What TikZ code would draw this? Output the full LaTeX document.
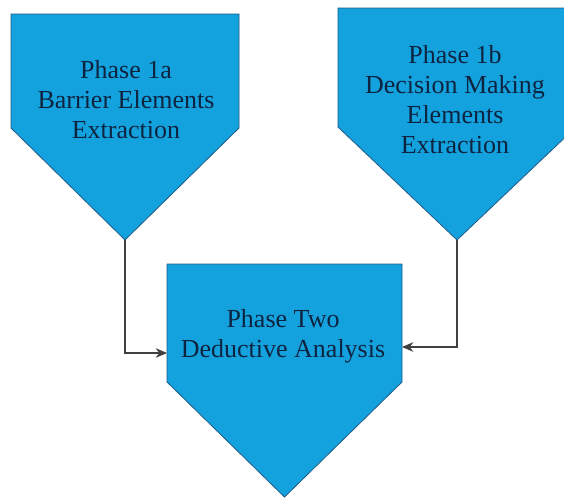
\documentclass[tikz,border=0pt]{standalone}
\usepackage{fontspec}
\setmainfont{Liberation Serif}
\newfontfamily\phasefont{Liberation Serif}
\usepackage{xcolor}
\usepackage{tikz}
\usetikzlibrary{arrows.meta, positioning, calc}
\definecolor{phaseblue}{HTML}{14A2DE}
\definecolor{phaseedge}{HTML}{1F5A85}
\definecolor{phasetext}{HTML}{0D2440}
\definecolor{linkgray}{HTML}{404040}

\begin{document}
\begin{tikzpicture}[
    x=1pt, y=-1pt,
    shaft/.style={
        rectangle,
        inner sep=0pt,
        outer sep=0pt
    },
    phase/.style={
        fill=phaseblue,
        draw=phaseedge,
        line width=0.8pt,
        line join=miter
    },
    caption/.style={
        anchor=north,
        inner sep=0pt,
        align=center,
        text=phasetext,
        font=\phasefont\fontsize{26}{30}\selectfont
    },
    link/.style={
        ->,
        >={Stealth[length=4mm, width=3.4mm]},
        line width=1.1pt,
        draw=linkgray
    }
]
\useasboundingbox (0,0) rectangle (564,498);
\clip (0,0) rectangle (564,498);

% Shaft of each phase
\node[shaft, minimum width=228pt, minimum height=114pt] (barrier) at (125,71) {};
\node[shaft, minimum width=238pt, minimum height=119pt] (decision) at (457,67.5) {};
\node[shaft, minimum width=235pt, minimum height=118pt] (deductive) at (284.5,323) {};

% Tips
\coordinate (barrier tip) at ($(barrier.south)+(0,112)$);
\coordinate (decision tip) at ($(decision.south)+(0,113)$);
\coordinate (deductive tip) at ($(deductive.south)+(0,115)$);

% Pentagons
\path[phase] (barrier.north west) -- (barrier.north east) -- (barrier.south east)
    -- (barrier tip) -- (barrier.south west) -- cycle;
\path[phase] (decision.north west) -- (decision.north east) -- (decision.south east)
    -- (decision tip) -- (decision.south west) -- cycle;
\path[phase] (deductive.north west) -- (deductive.north east) -- (deductive.south east)
    -- (deductive tip) -- (deductive.south west) -- cycle;

% Texts
\node[caption] (barrier text) at (126,60) {Phase 1a\\Barrier Elements\\Extraction};
\node[caption] (decision text) at (455,45) {Phase 1b\\Decision Making\\Elements\\Extraction};
\node[caption] (deductive text) at (283,309) {Phase Two\\Deductive Analysis};

% Connectors
\draw[link] (barrier tip) |- ([yshift=-30pt]deductive.west);
\draw[link] (decision tip) |- ([yshift=-24pt]deductive.east);

\end{tikzpicture}
\end{document}
